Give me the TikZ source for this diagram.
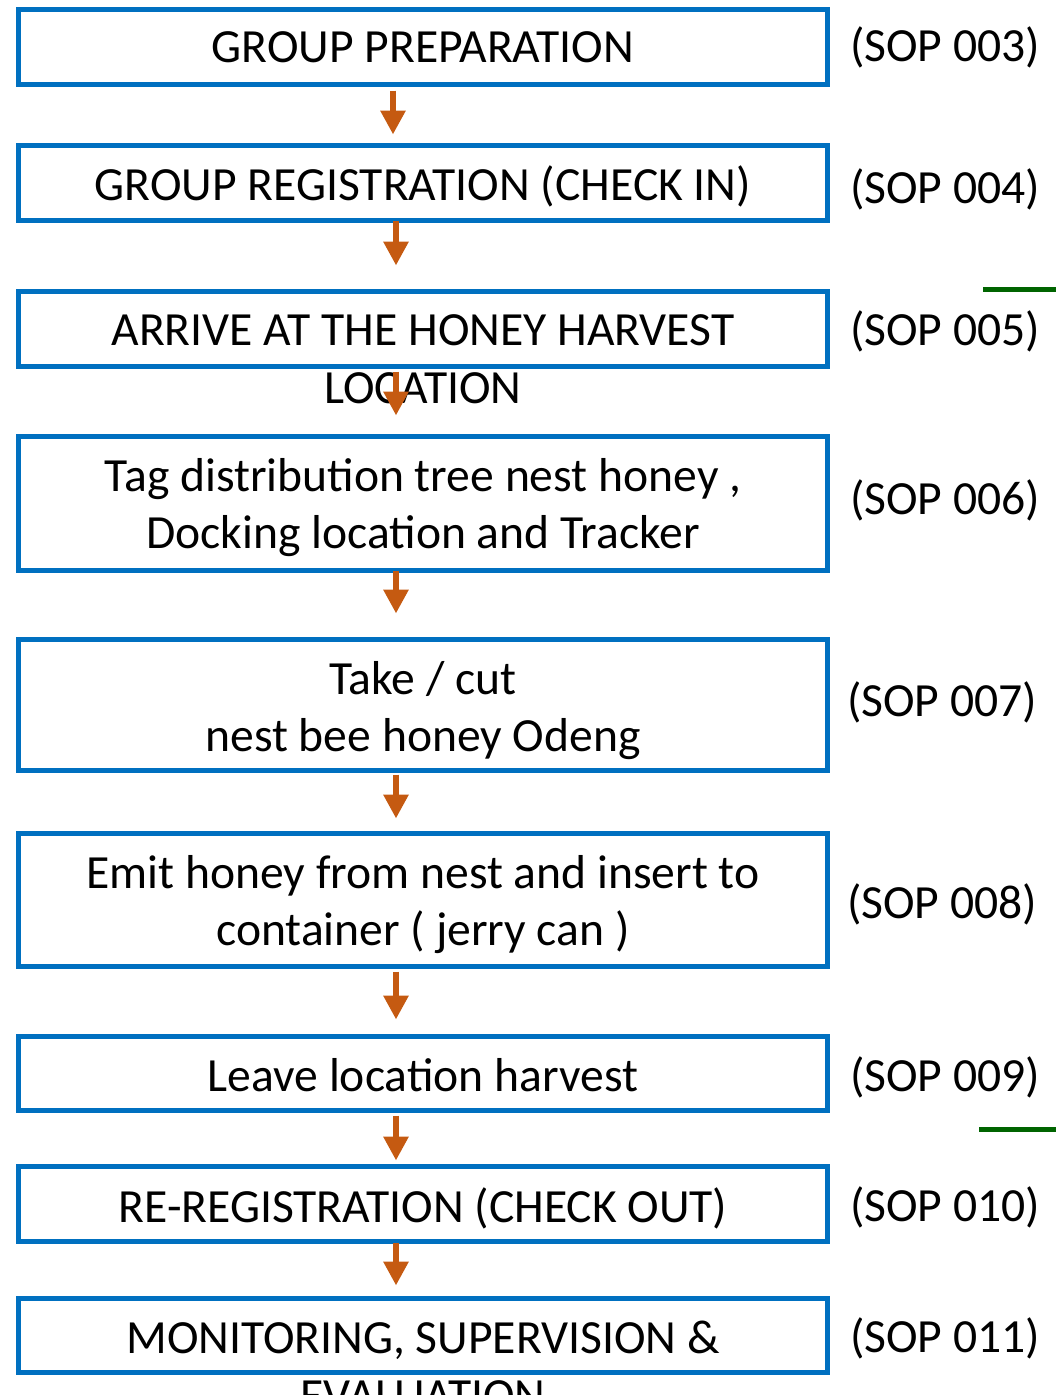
\documentclass[tikz,border=0pt]{standalone}
\usepackage{fontspec}
\setmainfont{Carlito}
\usetikzlibrary{arrows.meta}
\definecolor{boxblue}{RGB}{0,112,192}
\definecolor{arrorange}{RGB}{197,90,17}
\definecolor{lgreen}{RGB}{0,100,0}
\newcommand\diagfont{\fontsize{47.6}{57.5}\selectfont}
\begin{document}
\begin{tikzpicture}[x=1pt,y=-1pt,
  stepbox/.style={draw=boxblue, line width=5pt, minimum width=809pt, inner sep=0pt},
  txt/.style={inner sep=0pt, font=\diagfont, text height=30pt, text depth=0pt},
  sop/.style={inner sep=0pt, anchor=west, font=\diagfont},
  arr/.style={draw=arrorange, line width=6.5pt, -{Triangle[width=24pt,length=24pt]}},
  gline/.style={draw=lgreen, line width=5pt}]
\useasboundingbox (0,0) rectangle (1056,1395);
% boxes
\node[stepbox, minimum height=75pt] (b1) at (423,47) {};
\node[stepbox, minimum height=75pt] (b2) at (423,183) {};
\node[stepbox, minimum height=75pt] (b3) at (423,329) {};
\node[stepbox, minimum height=134pt] (b4) at (423,503.5) {};
\node[stepbox, minimum height=131pt] (b5) at (423,705) {};
\node[stepbox, minimum height=133pt] (b6) at (423,900) {};
\node[stepbox, minimum height=74pt] (b7) at (423,1073.5) {};
\node[stepbox, minimum height=75pt] (b8) at (423,1204) {};
\node[stepbox, minimum height=74pt] (b9) at (423,1335.5) {};
% box texts
\node[txt] (t1) at (423,47) {GROUP PREPARATION};
\node[txt] (t2) at (423,185) {GROUP REGISTRATION (CHECK IN)};
\node[txt] (t3a) at (423,330) {ARRIVE AT THE HONEY HARVEST};
\node[txt] (t3b) at (423,388) {LOCATION};
\node[txt] (t4a) at (423,476) {Tag distribution tree nest honey ,};
\node[txt] (t4b) at (423,533) {Docking location and Tracker};
\node[txt] (t5a) at (423,679) {Take / cut};
\node[txt] (t5b) at (423,736) {nest bee honey Odeng};
\node[txt] (t6a) at (423,873) {Emit honey from nest and insert to};
\node[txt] (t6b) at (423,930) {container ( jerry can )};
\node[txt] (t7) at (423,1076) {Leave location harvest};
\node[txt] (t8) at (423,1207) {RE-REGISTRATION (CHECK OUT)};
\node[txt] (t9a) at (423,1338) {MONITORING, SUPERVISION \&};
\node[txt] (t9b) at (423,1396) {EVALUATION};
% SOP labels
\node[sop] (s3) at (850,47) {(SOP 003)};
\node[sop] (s4) at (850,189) {(SOP 004)};
\node[sop] (s5) at (850,331) {(SOP 005)};
\node[sop] (s6) at (850,500) {(SOP 006)};
\node[sop] (s7) at (847,702) {(SOP 007)};
\node[sop] (s8) at (847,904) {(SOP 008)};
\node[sop] (s9) at (850,1077) {(SOP 009)};
\node[sop] (s10) at (850,1207) {(SOP 010)};
\node[sop] (s11) at (850,1338) {(SOP 011)};
% arrows
\draw[arr, shorten <=3.5pt, shorten >=8.5pt] ([xshift=-30pt]b1.south) -- ([xshift=-30pt]b2.north);
\draw[arr, shorten <=-2.5pt, shorten >=23.5pt] ([xshift=-27pt]b2.south) -- ([xshift=-27pt]b3.north);
\draw[arr, shorten <=2.5pt, shorten >=18.5pt] ([xshift=-27pt]b3.south) -- ([xshift=-27pt]b4.north);
\draw[arr, shorten <=-2.5pt, shorten >=23.5pt] ([xshift=-27pt]b4.south) -- ([xshift=-27pt]b5.north);
\draw[arr, shorten <=1.5pt, shorten >=12.5pt] ([xshift=-27pt]b5.south) -- ([xshift=-27pt]b6.north);
\draw[arr, shorten <=2.5pt, shorten >=14.5pt] ([xshift=-27pt]b6.south) -- ([xshift=-27pt]b7.north);
\draw[arr, shorten <=2.5pt, shorten >=3.5pt] ([xshift=-27pt]b7.south) -- ([xshift=-27pt]b8.north);
\draw[arr, shorten <=-1.5pt, shorten >=10.5pt] ([xshift=-27pt]b8.south) -- ([xshift=-27pt]b9.north);
% green lines
\coordinate (g1a) at (983,289);
\coordinate (g1b) at (1056,289);
\coordinate (g2a) at (979,1129);
\coordinate (g2b) at (1056,1129);
\draw[gline] (g1a) -- (g1b);
\draw[gline] (g2a) -- (g2b);
\end{tikzpicture}
\end{document}
